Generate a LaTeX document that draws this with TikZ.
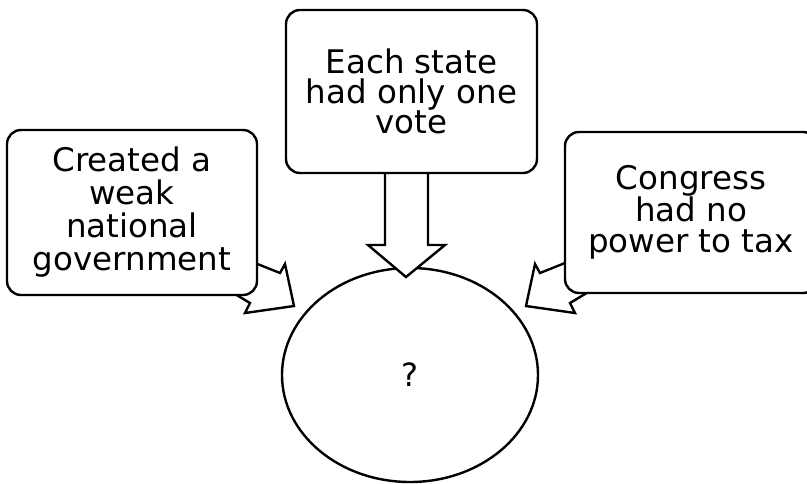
\documentclass[tikz,border=0pt]{standalone}
\usepackage{fontspec}
\setmainfont{DejaVu Sans}
\usetikzlibrary{shapes.geometric}
\begin{document}
\begin{tikzpicture}[x=1pt,y=-1pt,
  line join=round,
  outline/.style={draw=black,line width=2.4pt},
  factbox/.style={outline,fill=white,rounded corners=14pt,inner sep=0pt,align=center},
  blockarrow/.style={outline,fill=white,line join=miter}]
\useasboundingbox (0,0) rectangle (807,483);
% central ellipse
\node[outline,ellipse,minimum width=256pt,minimum height=214pt,inner sep=0pt,
  font=\fontsize{32}{32}\selectfont] (q) at (410,375) {?};
% block arrows (drawn under the boxes)
\coordinate (ltip) at (294,306);
\coordinate (rtip) at (526,306);
\coordinate (ttip) at (406,277);
\draw[blockarrow] (240,257) -- (280,273) -- (285,264) -- (ltip) -- (245,313) -- (250,303) -- (225,288) -- cycle;
\draw[blockarrow] (580,257) -- (540,273) -- (535,264) -- (rtip) -- (575,313) -- (570,303) -- (595,288) -- cycle;
\draw[blockarrow] (385,150) -- (385,245) -- (368,245) -- (ttip) -- (445,245) -- (428,245) -- (428,150) -- cycle;
% boxes
\node[factbox,minimum width=251pt,minimum height=163pt,font=\fontsize{32.5}{29.5}\selectfont] (top) at (411.5,91.5)
  {Each state\\had only one\\vote};
\node[factbox,minimum width=250pt,minimum height=165pt,font=\fontsize{32.5}{33}\selectfont] (left) at (132,212.5)
  {Created a\\weak\\national\\government};
\node[factbox,minimum width=252pt,minimum height=161pt,font=\fontsize{32.5}{31.5}\selectfont] (right) at (691,212.5)
  {Congress\\had no\\power to tax};
\end{tikzpicture}
\end{document}
